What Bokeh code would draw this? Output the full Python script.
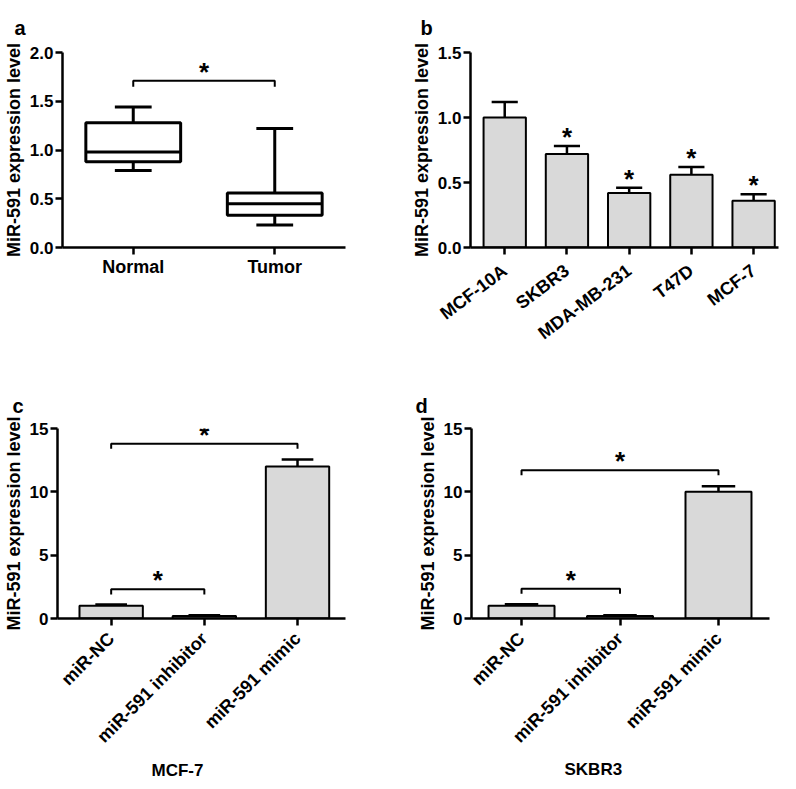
import math
from bokeh.plotting import figure
from bokeh.models import Range1d, FixedTicker, PrintfTickFormatter, Title
from bokeh.layouts import column, row
from bokeh.embed import file_html
from bokeh.resources import INLINE
from bokeh.core.properties import value

FONT = "Liberation Sans"
BAR_FILL = "#d9d9d9"
YLABEL = "MiR-591 expression level"

# ---------------- data ----------------
# panel a: box plot (whisker low, Q1, median, Q3, whisker high)
groups_a = ["Normal", "Tumor"]
low_a = [0.79, 0.23]
q1_a = [0.88, 0.33]
med_a = [0.98, 0.45]
q3_a = [1.28, 0.56]
high_a = [1.44, 1.22]
sig_a = [(0, 1, 1.71)]

# panel b: cell lines
cells_b = ["MCF-10A", "SKBR3", "MDA-MB-231", "T47D", "MCF-7"]
mean_b = [1.00, 0.72, 0.42, 0.56, 0.36]
sem_b = [0.12, 0.06, 0.04, 0.06, 0.05]
star_b = [False, True, True, True, True]

# panels c, d
groups_cd = ["miR-NC", "miR-591 inhibitor", "miR-591 mimic"]
mean_c = [1.0, 0.2, 12.0]
sem_c = [0.10, 0.06, 0.55]
sig_c = [(0, 2, 13.8), (0, 1, 2.3)]
mean_d = [1.0, 0.2, 10.0]
sem_d = [0.12, 0.06, 0.45]
sig_d = [(0, 2, 11.7), (0, 1, 2.35)]

H_TOP, H_BOT = 380, 401


def style_axis(ax, size="17px"):
    ax.axis_line_width = 2.5
    ax.axis_line_color = "black"
    ax.major_tick_line_width = 2.5
    ax.major_tick_line_color = "black"
    ax.major_tick_out = 7
    ax.major_tick_in = 0
    ax.minor_tick_line_color = None
    ax.major_label_text_font = FONT
    ax.major_label_text_font_style = "bold"
    ax.major_label_text_font_size = size
    ax.major_label_text_color = "black"
    ax.major_label_standoff = 2


def make_fig(w, h, xr, yr, left, right, top, bottom, yticks, fmt):
    p = figure(width=w, height=h, x_range=xr, y_range=yr,
               output_backend="svg", toolbar_location=None,
               min_border_left=left, min_border_right=right,
               min_border_top=top, min_border_bottom=bottom)
    p.grid.visible = False
    p.outline_line_color = None
    style_axis(p.xaxis[0])
    style_axis(p.yaxis[0])
    p.yaxis[0].ticker = FixedTicker(ticks=yticks)
    p.yaxis[0].formatter = PrintfTickFormatter(format=fmt)
    p.yaxis[0].axis_label = YLABEL
    p.yaxis[0].axis_label_text_font = FONT
    p.yaxis[0].axis_label_text_font_style = "bold"
    p.yaxis[0].axis_label_text_font_size = "18px"
    p.yaxis[0].axis_label_text_color = "black"
    p.yaxis[0].axis_label_standoff = 3
    return p


def cat_xaxis(p, labels, angle, size="18px", standoff=2):
    p.xaxis[0].ticker = FixedTicker(ticks=list(range(len(labels))))
    p.xaxis[0].major_label_overrides = {i: s for i, s in enumerate(labels)}
    p.xaxis[0].major_label_orientation = angle
    p.xaxis[0].major_label_text_font_size = size
    p.xaxis[0].major_label_standoff = standoff


def panel_letter(p, text, offset, standoff):
    p.title.text = text
    p.title.align = "left"
    p.title.offset = offset
    p.title.standoff = standoff
    p.title.text_font = FONT
    p.title.text_font_style = "bold"
    p.title.text_font_size = "20px"
    p.title.text_color = "black"


def bottom_title(p, text, offset, standoff):
    p.add_layout(Title(text=text, align="left", offset=offset, standoff=standoff,
                       text_font=FONT, text_font_style="bold", text_font_size="17px",
                       text_color="black"), "below")


def add_star(p, xs, ys):
    p.text(x=xs, y=ys, text=["*"] * len(xs), text_font=value(FONT), text_font_style="bold",
           text_font_size="26px", text_align="center", text_baseline="middle",
           text_color="black", y_offset=-9)


def add_brackets(p, sig, drop):
    for (i, j, hgt) in sig:
        p.line(x=[i, i, j, j], y=[hgt - drop, hgt, hgt, hgt - drop], line_color="black", line_width=2)
    add_star(p, [(i + j) / 2 for (i, j, _) in sig], [hgt for (_, _, hgt) in sig])


def add_bars(p, means, sems, bar_w, cap_w):
    xs = list(range(len(means)))
    tops = [m + s for m, s in zip(means, sems)]
    p.vbar(x=xs, top=means, bottom=0, width=bar_w, fill_color=BAR_FILL,
           line_color="black", line_width=2)
    p.segment(x0=xs, y0=means, x1=xs, y1=tops, line_color="black", line_width=2.5)
    p.segment(x0=[x - cap_w / 2 for x in xs], y0=tops, x1=[x + cap_w / 2 for x in xs], y1=tops,
              line_color="black", line_width=2.5)
    return tops


# ---------------- panel a ----------------
FL_a, FT_a, FB_a = 50, 52, 132
pa = make_fig(392, H_TOP, Range1d(-0.5, 1.5), Range1d(0, 2.0), FL_a, 47, FT_a, FB_a,
              [0, 0.5, 1.0, 1.5, 2.0], "%.1f")
cat_xaxis(pa, groups_a, "horizontal", "18px", 2)
xa = list(range(len(groups_a)))
box_w, capw_a = 0.67, 0.26
pa.segment(x0=xa, y0=q3_a, x1=xa, y1=high_a, line_color="black", line_width=3)
pa.segment(x0=xa, y0=low_a, x1=xa, y1=q1_a, line_color="black", line_width=3)
pa.segment(x0=[x - capw_a / 2 for x in xa], y0=high_a, x1=[x + capw_a / 2 for x in xa], y1=high_a,
           line_color="black", line_width=3)
pa.segment(x0=[x - capw_a / 2 for x in xa], y0=low_a, x1=[x + capw_a / 2 for x in xa], y1=low_a,
           line_color="black", line_width=3)
pa.vbar(x=xa, bottom=q1_a, top=q3_a, width=box_w, fill_color="white", line_color="black", line_width=3)
pa.segment(x0=[x - box_w / 2 for x in xa], y0=med_a, x1=[x + box_w / 2 for x in xa], y1=med_a,
           line_color="black", line_width=3)
add_brackets(pa, sig_a, 0.06)
panel_letter(pa, "a", -48, 27)

# ---------------- panel b ----------------
FL_b, FT_b, FB_b = 78, 47, 133
pb = make_fig(388, H_TOP, Range1d(-0.55, 4.4), Range1d(0, 1.5), FL_b, 2, FT_b, FB_b,
              [0, 0.5, 1.0, 1.5], "%.1f")
cat_xaxis(pb, cells_b, math.radians(37), "18px", 14)
tops_b = add_bars(pb, mean_b, sem_b, 0.68, 0.42)
add_star(pb, [i for i, s in enumerate(star_b) if s], [t for t, s in zip(tops_b, star_b) if s])
panel_letter(pb, "b", -50, 27)

# ---------------- panel c ----------------
FL_c, FT_c, FB_c = 39, 47, 162
pc = make_fig(392, H_BOT, Range1d(-0.576, 2.515), Range1d(0, 15), FL_c, 47, FT_c, FB_c,
              [0, 5, 10, 15], "%d")
cat_xaxis(pc, groups_cd, math.pi / 4, "18px", 10)
add_bars(pc, mean_c, sem_c, 0.68, 0.34)
add_brackets(pc, sig_c, 0.4)
panel_letter(pc, "c", -45, 23)
bottom_title(pc, "MCF-7", 94, 4)

# ---------------- panel d ----------------
FL_d, FT_d, FB_d = 79, 48, 160
pd_ = make_fig(388, H_BOT, Range1d(-0.508, 2.518), Range1d(0, 15), FL_d, 11, FT_d, FB_d,
               [0, 5, 10, 15], "%d")
cat_xaxis(pd_, groups_cd, math.pi / 4, "18px", 10)
add_bars(pd_, mean_d, sem_d, 0.67, 0.34)
add_brackets(pd_, sig_d, 0.4)
panel_letter(pd_, "d", -56, 23)
bottom_title(pd_, "SKBR3", 93, 2)

layout = column(row(pa, pb), row(pc, pd_))
open("out.html", "w").write(file_html(layout, INLINE))
